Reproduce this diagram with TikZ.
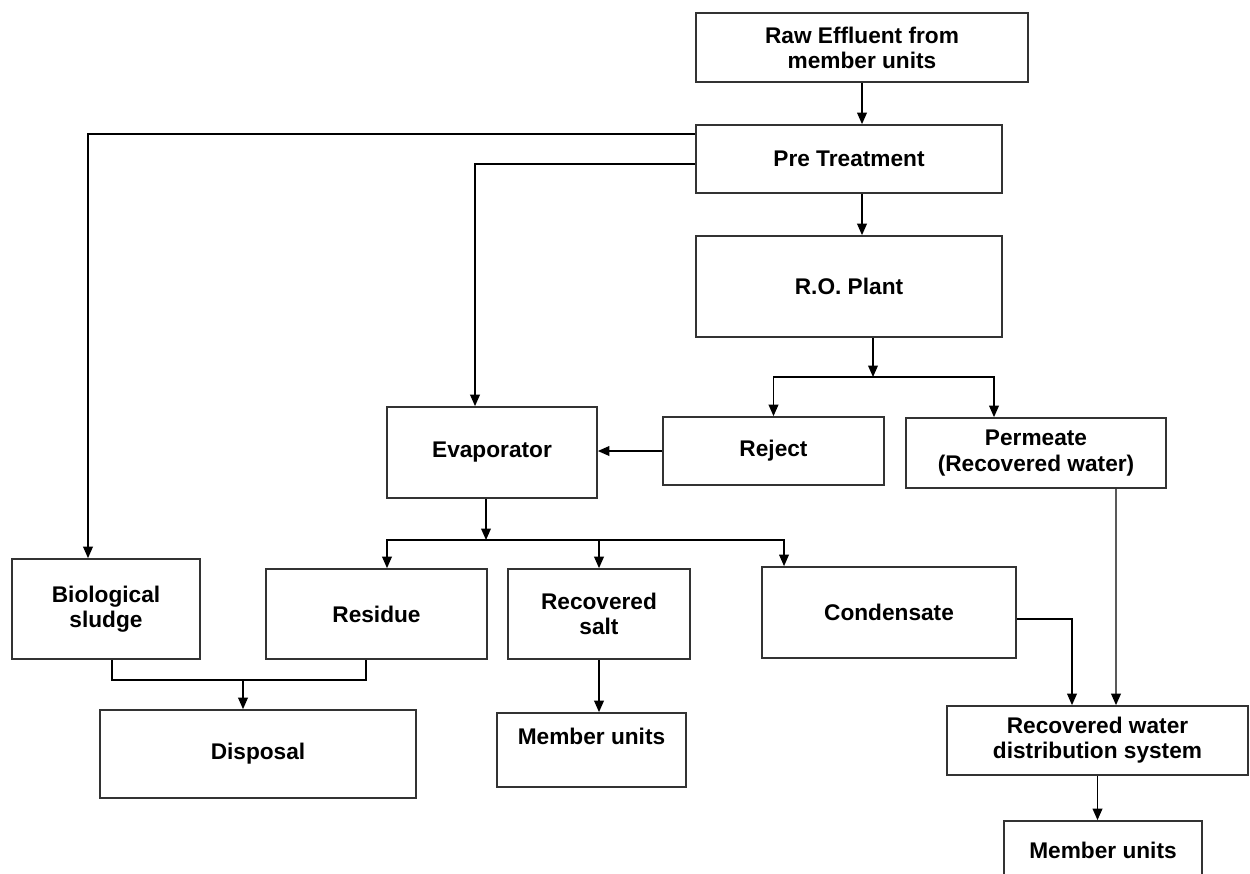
\documentclass[tikz,border=0pt]{standalone}
\usepackage{fontspec}
\setmainfont{Liberation Sans}
\usepackage{tikz}
\usetikzlibrary{arrows.meta}

\begin{document}
\begin{tikzpicture}[x=0.02cm,y=-0.02cm,
		blk/.style={draw=black!80,line width=1pt,align=center,inner sep=2pt,font=\bfseries\fontsize{12.9}{14.3}\selectfont},
		arr/.style={line width=0.8pt,-{Triangle[length=6.5pt,width=5.5pt]}}]
	
	\useasboundingbox (0,0) rectangle (1250,873);
	
	% top column
	\node[blk,minimum width=6.64cm,minimum height=1.38cm] (raw) at (862,47.5) {Raw Effluent from\\member units};
	\node[blk,minimum width=6.12cm,minimum height=1.36cm] (pre) at (849,159) {Pre Treatment};
	\node[blk,minimum width=6.12cm,minimum height=2.02cm] (ro) at (849,286.5) {R.O. Plant};
	
	% middle row
	\node[blk,minimum width=4.2cm,minimum height=1.82cm] (evap) at (492,452.5) {Evaporator};
	\node[blk,minimum width=4.42cm,minimum height=1.36cm] (reject) at (773.5,451) {Reject};
	\node[blk,minimum width=5.2cm,minimum height=1.4cm] (perm) at (1036,453) {Permeate\\(Recovered water)};
	
	% products
	\node[blk,minimum width=3.76cm,minimum height=2cm] (bio) at (106,609) {Biological\\sludge};
	\node[blk,minimum width=4.42cm,minimum height=1.8cm] (resid) at (376.5,614) {Residue};
	\node[blk,minimum width=3.64cm,minimum height=1.8cm] (salt) at (599,614) {Recovered\\salt};
	\node[blk,minimum width=5.08cm,minimum height=1.82cm] (cond) at (889,612.5) {Condensate};
	
	% bottom row
	\node[blk,minimum width=6.32cm,minimum height=1.76cm] (disp) at (258,754) {Disposal};
	\node[blk,minimum width=3.78cm,minimum height=1.48cm,text depth=0.56cm] (mem1) at (591.5,750) {Member units};
	\node[blk,minimum width=6.02cm,minimum height=1.38cm] (rwds) at (1097.5,740.5) {Recovered water\\distribution system};
	\node[blk,minimum width=3.96cm,minimum height=1.16cm] (mem2) at (1103,850) {Member units};
	
	\coordinate (rosplit) at (873,377);
	\coordinate (evsplit) at (486,540);
	\coordinate (dispjoin) at (243,680);
	
	\draw[arr] (raw.south) -- (raw.south |- pre.north);
	\draw[arr] (raw.south |- pre.south) -- (raw.south |- ro.north);
	\draw[arr] ([yshift=-0.2cm]pre.north west) -| ([xshift=-0.36cm]bio.north);
	\draw[arr] ([yshift=-0.1cm]pre.west) -| ([xshift=-0.34cm]evap.north);
	
	\draw[arr] (rosplit |- ro.south) -- (rosplit);
	\draw[arr] (rosplit) -| (reject.north);
	\draw[arr] (rosplit) -| ([xshift=-0.84cm]perm.north);
	\draw[arr] (reject.west) -- (reject.west -| evap.east);
	
	\draw[arr] (evsplit |- evap.south) -- (evsplit);
	\draw[arr] (evsplit) -| ([xshift=0.21cm]resid.north);
	\draw[arr] (evsplit) -| (salt.north);
	\draw[arr] (evsplit) -| ([xshift=-2.1cm]cond.north);
	
	\draw[line width=0.8pt] ([xshift=0.12cm]bio.south) |- (dispjoin) -| ([xshift=-0.21cm]resid.south);
	\draw[arr] (dispjoin) -- (dispjoin |- disp.north);
	\draw[arr] (salt.south) -- (salt.south |- mem1.north);
	
	\draw[arr] ([yshift=-0.13cm]cond.east) -| ([xshift=-0.51cm]rwds.north);
	\draw[arr] ([xshift=1.6cm]perm.south) -- ([xshift=0.37cm]rwds.north);
	\draw[arr] (rwds.south) -- (rwds.south |- mem2.north);
\end{tikzpicture}
\end{document}
